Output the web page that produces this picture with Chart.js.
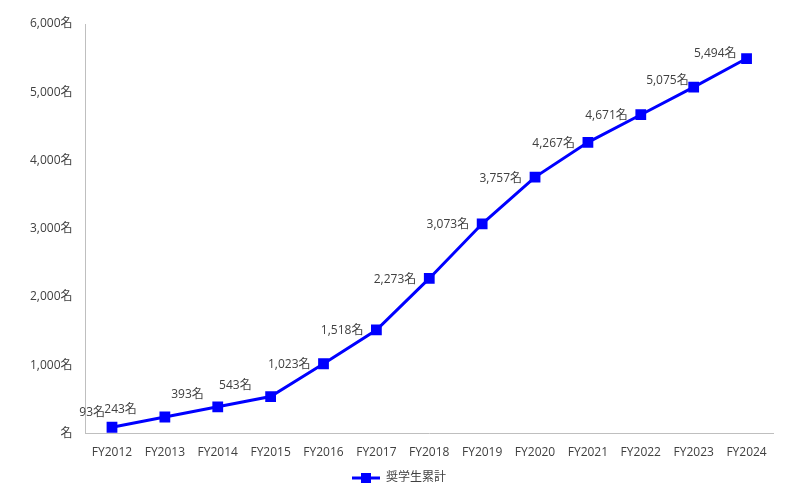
<!DOCTYPE html>
<html><head><meta charset="utf-8">
<script src="https://cdn.jsdelivr.net/npm/chart.js@4"></script>
<style>html,body{margin:0;padding:0;background:#fff}#wrap{width:800px;height:494px;position:relative}</style>
</head><body><div id="wrap"><canvas id="c"></canvas></div>
<script>
const categories = ['FY2012','FY2013','FY2014','FY2015','FY2016','FY2017','FY2018','FY2019','FY2020','FY2021','FY2022','FY2023','FY2024'];
const cumulativeScholars = [93,243,393,543,1023,1518,2273,3073,3757,4267,4671,5075,5494];
const seriesName = '奨学生累計';
const yTicksMax = 6000;

const FONT = "'Open Sans','Noto Sans CJK JP',sans-serif";
const BLUE = '#0000FF';

// legend icon: line with square marker
const icon = document.createElement('canvas');
icon.width = 28; icon.height = 10;
(function(){const g=icon.getContext('2d');g.strokeStyle=BLUE;g.lineWidth=3;g.beginPath();g.moveTo(0,5);g.lineTo(28,5);g.stroke();g.fillStyle=BLUE;g.fillRect(9,0,10,10);})();

// label offsets (dx: right edge relative to point, dy: vertical centre relative to point)
const labelOffsets = {0:[-7,-15],1:[-28,-7],2:[-14,-12],3:[-19,-11],11:[-5,-7],12:[-10,-5]};

const labelPlugin = {
  id:'pointLabels',
  afterDatasetsDraw(chart){
    const ctx = chart.ctx; const meta = chart.getDatasetMeta(0);
    ctx.save();
    ctx.font = "12px " + FONT; ctx.fillStyle = '#404040';
    ctx.textAlign = 'right'; ctx.textBaseline = 'middle';
    meta.data.forEach((pt,i)=>{
      const v = chart.data.datasets[0].data[i];
      const off = labelOffsets[i] || [-13,1];
      ctx.fillText(v.toLocaleString('en-US')+'名', pt.x+off[0], pt.y+off[1]);
    });
    ctx.restore();
  }
};

new Chart(document.getElementById('c'), {
  type:'line',
  data:{labels:categories, datasets:[{label:seriesName, data:cumulativeScholars, borderColor:BLUE, backgroundColor:BLUE, borderWidth:3, pointStyle:'rect', pointRadius:5.5, pointHoverRadius:5.5, tension:0}]},
  options:{
    responsive:true, maintainAspectRatio:false, animation:false,
    layout:{padding:{top:24,right:27,left:25,bottom:0}},
    plugins:{
      tooltip:{enabled:false},
      legend:{position:'bottom', labels:{usePointStyle:true, pointStyle:icon, pointStyleWidth:28, color:'#404040', font:{family:FONT,size:12}, padding:8,
        generateLabels(chart){return [{text:seriesName, pointStyle:icon, fillStyle:BLUE, strokeStyle:BLUE, lineWidth:0, datasetIndex:0, fontColor:'#404040'}];}}}
    },
    scales:{
      x:{offset:true, grid:{display:false}, border:{display:true,color:'#bfbfbf'}, ticks:{color:'#404040', font:{family:FONT,size:12}, padding:4, maxRotation:0}},
      y:{min:0,max:yTicksMax, grid:{display:false}, border:{display:true,color:'#bfbfbf'},
         ticks:{stepSize:1000, color:'#404040', font:{family:FONT,size:12}, padding:5, callback:v=> v===0?'名':v.toLocaleString('en-US')+'名'}}
    }
  },
  plugins:[labelPlugin]
});
</script></body></html>
